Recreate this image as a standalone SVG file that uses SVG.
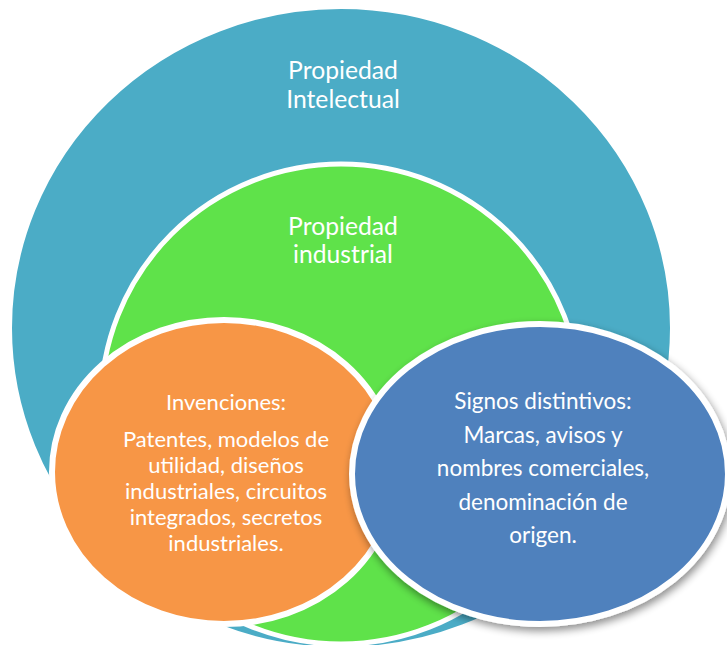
<svg xmlns="http://www.w3.org/2000/svg" width="727" height="645" viewBox="0 0 727 645">
  <defs>
    <filter id="shadow" x="-10%" y="-10%" width="125%" height="130%">
      <feGaussianBlur in="SourceAlpha" stdDeviation="4"/>
      <feOffset dx="2" dy="4" result="b"/>
      <feComponentTransfer><feFuncA type="linear" slope="0.45"/></feComponentTransfer>
      <feMerge><feMergeNode/><feMergeNode in="SourceGraphic"/></feMerge>
    </filter>
  </defs>
  <style>
    .lbl { font-family: Lato, "Open Sans", "Liberation Sans", sans-serif; fill: #ffffff; text-anchor: middle; }
    .big { font-size: 24.7px; }
    .small { font-size: 22px; }
    .blu { font-size: 22.5px; }
    .shape { stroke: #ffffff; }
  </style>
  <rect width="727" height="645" fill="#ffffff"/>
  <g id="propiedad-intelectual">
    <ellipse cx="341" cy="328" rx="330" ry="320" fill="#4BACC6" class="shape" stroke-width="2"/>
    <text class="lbl big" x="343" y="79">Propiedad</text>
    <text class="lbl big" x="343" y="108">Intelectual</text>
  </g>
  <g id="propiedad-industrial">
    <circle cx="341" cy="404" r="240" fill="#5FE24A" class="shape" stroke-width="5"/>
    <text class="lbl big" x="343" y="235">Propiedad</text>
    <text class="lbl big" x="343" y="263">industrial</text>
  </g>
  <g id="invenciones">
    <ellipse cx="224" cy="472" rx="172" ry="152" fill="#F79646" class="shape" stroke-width="6"/>
    <text class="lbl small" x="226" y="410">Invenciones:</text>
    <text class="lbl small" x="226" y="447">Patentes, modelos de</text>
    <text class="lbl small" x="226" y="473">utilidad, diseños</text>
    <text class="lbl small" x="226" y="499">industriales, circuitos</text>
    <text class="lbl small" x="226" y="525">integrados, secretos</text>
    <text class="lbl small" x="226" y="551">industriales.</text>
  </g>
  <g id="signos-distintivos">
    <ellipse cx="540" cy="474" rx="188" ry="150" fill="#4F81BD" class="shape" stroke-width="6" filter="url(#shadow)"/>
    <text class="lbl blu" x="543" y="409">Signos distintivos:</text>
    <text class="lbl blu" x="543" y="443">Marcas, avisos y</text>
    <text class="lbl blu" x="543" y="476">nombres comerciales,</text>
    <text class="lbl blu" x="543" y="510">denominación de</text>
    <text class="lbl blu" x="543" y="543">origen.</text>
  </g>
  <g id="connectors"/>
</svg>
